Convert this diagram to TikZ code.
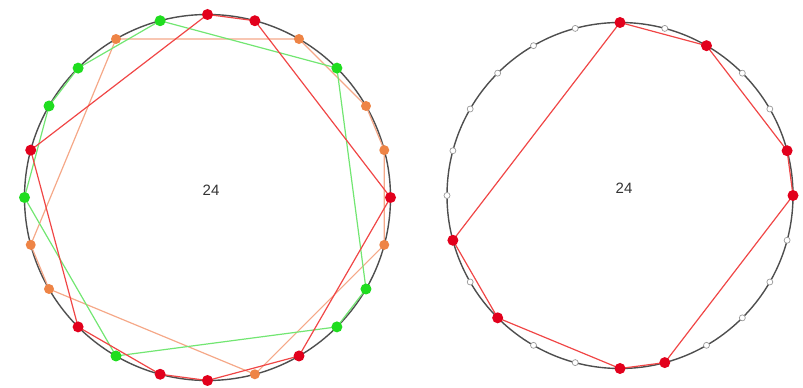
\documentclass[tikz,border=0pt]{standalone}
\usepackage{fontspec}
\setmainfont{Liberation Sans}
\usepackage{tikz}
\usetikzlibrary{calc}
\definecolor{rot}{HTML}{E2001C}
\definecolor{rotl}{HTML}{F04646}
\definecolor{orng}{HTML}{EE8446}
\definecolor{orngl}{HTML}{F5A888}
\definecolor{gruen}{HTML}{1FDD1F}
\definecolor{gruenl}{HTML}{72E672}
\definecolor{grau}{HTML}{4E4E4E}
\definecolor{hgrau}{HTML}{9A9A9A}
\definecolor{dgrau}{HTML}{333333}
\tikzset{
  kreis/.style={grau,line width=1.4pt},
  punkt/.style={circle,inner sep=0pt,minimum size=11pt},
  prot/.style={punkt,fill=rot},
  porng/.style={punkt,fill=orng,minimum size=10pt},
  pgruen/.style={punkt,fill=gruen},
  phohl/.style={circle,inner sep=0pt,minimum size=6pt,draw=hgrau,fill=white,line width=0.7pt},
  lrot/.style={rotl,line width=1.2pt},
  lorng/.style={orngl,line width=1.2pt},
  lgruen/.style={gruenl,line width=1.2pt},
  zahl/.style={text=dgrau,font=\fontsize{15}{15}\selectfont},
}
\begin{document}
\begin{tikzpicture}[x=1pt,y=1pt]
  \useasboundingbox (0,0) rectangle (803,388);
  \begin{scope}[shift={(207.5,190.5)}]
    \draw[kreis] (0,0) circle (183);
    \foreach \i in {0,...,23} \coordinate (L\i) at (15*\i:183);
    \draw[lorng] (L1)--(L2)--(L4)--(L8)--(L13)--(L14)--(L19)--(L23)--cycle;
    \draw[lgruen] (L3)--(L7)--(L9)--(L10)--(L12)--(L16)--(L21)--(L22)--cycle;
    \draw[lrot] (L0)--(L5)--(L6)--(L11)--(L15)--(L17)--(L18)--(L20)--cycle;
    \foreach \i/\f in {0/prot,1/porng,2/porng,3/pgruen,4/porng,5/prot,6/prot,7/pgruen,
      8/porng,9/pgruen,10/pgruen,11/prot,12/pgruen,13/porng,14/porng,15/prot,
      16/pgruen,17/prot,18/prot,19/porng,20/prot,21/pgruen,22/pgruen,23/porng}
      \node[\f] (pL\i) at (L\i) {};
    \node[zahl] (nL) at (3.5,7.5) {24};
  \end{scope}
  \begin{scope}[shift={(620,192.5)}]
    \draw[kreis] (0,0) circle (173);
    \foreach \i in {0,...,23} \coordinate (R\i) at (15*\i:173);
    \draw[lrot] (R0)--(R1)--(R4)--(R6)--(R13)--(R15)--(R18)--(R19)--cycle;
    \foreach \i/\f in {0/prot,1/prot,2/phohl,3/phohl,4/prot,5/phohl,6/prot,7/phohl,
      8/phohl,9/phohl,10/phohl,11/phohl,12/phohl,13/prot,14/phohl,15/prot,
      16/phohl,17/phohl,18/prot,19/prot,20/phohl,21/phohl,22/phohl,23/phohl}
      \node[\f] (pR\i) at (R\i) {};
    \node[zahl] (nR) at (4,7.5) {24};
  \end{scope}
\end{tikzpicture}
\end{document}
